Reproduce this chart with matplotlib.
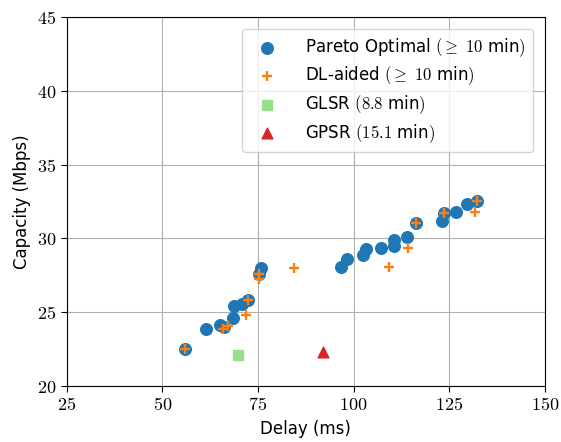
import matplotlib
matplotlib.use("Agg")
import matplotlib.pyplot as plt
from matplotlib.ticker import FuncFormatter

plt.rcParams['mathtext.fontset'] = 'cm'
plt.rcParams['font.family'] = ['DejaVu Sans']

pareto_delay = [55.9, 61.3, 65.2, 66.0, 68.5, 68.7, 70.8, 72.4, 75.3, 75.9,
                96.8, 98.3, 102.5, 103.2, 107.2, 110.6, 110.6, 114.0, 116.4,
                123.1, 123.6, 126.9, 129.6, 132.4]
pareto_cap = [22.5, 23.84, 24.15, 24.0, 24.63, 25.44, 25.56, 25.83, 27.56, 27.97,
              28.04, 28.58, 28.87, 29.28, 29.33, 29.49, 29.89, 30.07, 31.07,
              31.2, 31.69, 31.81, 32.31, 32.55]

dl_delay = [55.9, 65.9, 67.2, 72.0, 72.4, 75.3, 75.3, 84.4, 109.3, 114.2,
            116.4, 123.6, 131.7, 132.4]
dl_cap = [22.5, 23.84, 24.06, 24.81, 25.83, 27.56, 27.23, 27.97, 28.04, 29.33,
          31.07, 31.69, 31.81, 32.55]

glsr_delay = [69.7]
glsr_cap = [22.1]
gpsr_delay = [91.9]
gpsr_cap = [22.3]

x_ticks = [25, 50, 75, 100, 125, 150]
y_ticks = [20, 25, 30, 35, 40, 45]

fig = plt.figure(figsize=(5.61, 4.42), dpi=100)
ax = fig.add_axes([0.119, 0.1267, 0.852, 0.8348])

ax.scatter(pareto_delay, pareto_cap, s=70, color='#1f77b4', marker='o',
           label=r'Pareto Optimal $(\geq\ 10$ min$)$', zorder=3)
ax.scatter(dl_delay, dl_cap, s=45, color='#ff7f0e', marker='+', linewidths=1.7,
           label=r'DL-aided $(\geq\ 10$ min$)$', zorder=4)
ax.scatter(glsr_delay, glsr_cap, s=60, color='#98df8a', marker='s',
           label=r'GLSR $(8.8$ min$)$', zorder=3)
ax.scatter(gpsr_delay, gpsr_cap, s=60, color='#d62728', marker='^',
           label=r'GPSR $(15.1$ min$)$', zorder=3)

ax.set_xlim(25, 150)
ax.set_ylim(20, 45)
ax.set_xticks(x_ticks)
ax.set_yticks(y_ticks)
fmt = FuncFormatter(lambda v, p: r'$%d$' % v)
ax.xaxis.set_major_formatter(fmt)
ax.yaxis.set_major_formatter(fmt)
ax.tick_params(labelsize=13, direction='out', length=4)
ax.grid(True, color='#b0b0b0', linewidth=0.8)
ax.set_axisbelow(True)
ax.set_xlabel('Delay (ms)', fontsize=12)
ax.set_ylabel('Capacity (Mbps)', fontsize=12)
ax.legend(loc='upper right', fontsize=12, framealpha=0.8,
          handletextpad=1.3, borderaxespad=0.7, borderpad=0.45,
          labelspacing=0.35)

fig.savefig('out.png', dpi=100)
